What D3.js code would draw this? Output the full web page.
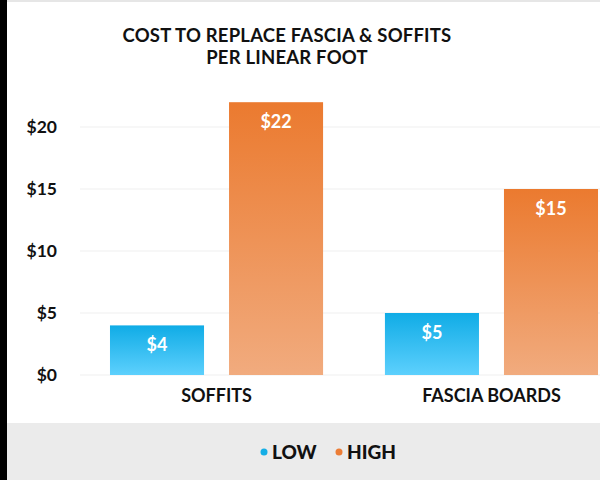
<!DOCTYPE html>
<html><head><meta charset="utf-8">
<script src="https://cdn.jsdelivr.net/npm/d3@7"></script>
<style>
html,body{margin:0;padding:0;background:#fff;}
svg{display:block;font-family:Lato,"Open Sans",sans-serif;}
</style></head>
<body><svg id="c" width="600" height="480"></svg>
<script>
const categories = ["SOFFITS", "FASCIA BOARDS"];
const seriesNames = ["LOW", "HIGH"];
const lowValues = [4, 5];
const highValues = [22, 15];
const yTicks = [0, 5, 10, 15, 20];
const titleLines = ["COST TO REPLACE FASCIA & SOFFITS", "PER LINEAR FOOT"];

const svg = d3.select("#c");
const W = 600, H = 480;

const defs = svg.append("defs");
const gradDefs = [
  {id: "gLOW", top: "#10ace6", bottom: "#5dd0fd"},
  {id: "gHIGH", top: "#eb7a2f", bottom: "#f1ab7e"}
];
gradDefs.forEach(g => {
  const lg = defs.append("linearGradient").attr("id", g.id).attr("x1", 0).attr("y1", 0).attr("x2", 0).attr("y2", 1);
  lg.append("stop").attr("offset", "0%").attr("stop-color", g.top);
  lg.append("stop").attr("offset", "100%").attr("stop-color", g.bottom);
});

// frame
svg.append("rect").attr("x", 0).attr("y", 0).attr("width", W).attr("height", 2).attr("fill", "#e6e6e6");
svg.append("rect").attr("x", 7).attr("y", 423).attr("width", W - 7).attr("height", H - 423).attr("fill", "#ebebeb");
svg.append("rect").attr("x", 0).attr("y", 0).attr("width", 7).attr("height", H).attr("fill", "#000");

// title
svg.append("g").selectAll("text").data(titleLines).join("text")
  .attr("x", 287).attr("y", (d, i) => 42 + i * 22)
  .attr("text-anchor", "middle").attr("font-size", 18.5).attr("font-weight", 700)
  .attr("letter-spacing", 0.2)
  .attr("fill", "#111").text(d => d);

const y = d3.scaleLinear().domain([0, 25]).range([375, 65]);
const x0 = d3.scaleBand().domain(categories).range([79, 629]).paddingInner(0.225).paddingOuter(0.1127);
const x1 = d3.scaleBand().domain(seriesNames).range([0, x0.bandwidth()]).paddingInner(0.21);

// grid
svg.append("g").selectAll("line").data(yTicks).join("line")
  .attr("x1", 80).attr("x2", W).attr("y1", d => y(d)).attr("y2", d => y(d))
  .attr("stroke", "#efefef").attr("stroke-width", 1);

// y axis
const yAxis = d3.axisLeft(y).tickValues(yTicks).tickFormat(d => "$" + d).tickSize(0).tickPadding(0);
const ya = svg.append("g").attr("transform", "translate(57,0)").call(yAxis);
ya.select(".domain").remove();
ya.selectAll("text").attr("font-size", 17.5).attr("font-weight", 700).attr("fill", "#111")
  .attr("font-family", "Lato, sans-serif");

// x axis labels
const xAxis = d3.axisBottom(x0).tickSize(0).tickPadding(0);
const xa = svg.append("g").attr("transform", "translate(0,389)").call(xAxis);
xa.select(".domain").remove();
xa.selectAll("text").attr("font-size", 18).attr("font-weight", 700).attr("fill", "#111")
  .attr("font-family", "Lato, sans-serif");

// bars
const data = categories.map((c, i) => ({cat: c, vals: [{s: "LOW", v: lowValues[i]}, {s: "HIGH", v: highValues[i]}]}));
const groups = svg.append("g").selectAll("g").data(data).join("g")
  .attr("transform", d => `translate(${x0(d.cat)},0)`);
groups.selectAll("rect").data(d => d.vals).join("rect")
  .attr("x", d => x1(d.s)).attr("width", x1.bandwidth())
  .attr("y", d => y(d.v)).attr("height", d => y(0) - y(d.v))
  .attr("fill", d => `url(#g${d.s})`);
groups.selectAll("text").data(d => d.vals).join("text")
  .attr("x", d => x1(d.s) + x1.bandwidth() / 2).attr("y", d => y(d.v) + 26)
  .attr("text-anchor", "middle").attr("font-size", 18).attr("font-weight", 700)
  .attr("fill", "#fff").text(d => "$" + d.v);

// legend
const legendColors = {LOW: "#14aee6", HIGH: "#ec7d36"};
const legendX = [264, 339];
const lg = svg.append("g").selectAll("g").data(seriesNames).join("g")
  .attr("transform", (d, i) => `translate(${legendX[i]},452)`);
lg.append("circle").attr("cx", 0).attr("cy", 0).attr("r", 3.5).attr("fill", d => legendColors[d]);
lg.append("text").attr("x", 8).attr("y", 7).attr("font-size", 19).attr("font-weight", 900)
  .attr("fill", "#111").text(d => d);
</script></body></html>
